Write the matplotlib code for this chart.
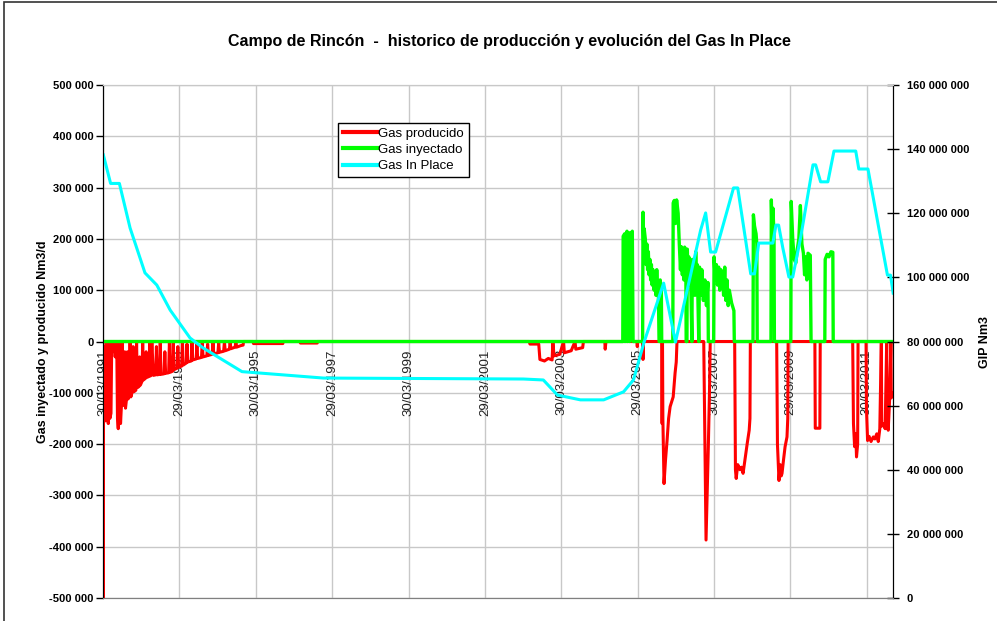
import numpy as np
import pandas as pd
import matplotlib
matplotlib.use('Agg')
import matplotlib.pyplot as plt
from matplotlib.patches import Rectangle

plt.rcParams['font.family'] = ['Liberation Sans', 'DejaVu Sans']

# --- data (time in decimal years) ---
# Gas producido (negative, Nm3/d)
prod_t = [1991.24, 1991.245, 1991.25, 1991.27, 1991.29, 1991.31, 1991.33, 1991.35, 1991.38,
          1991.40, 1991.42, 1991.45, 1991.47, 1991.50, 1991.53, 1991.56, 1991.60, 1991.62,
          1991.64, 1991.66, 1991.68, 1991.70, 1991.72, 1991.74, 1991.76, 1991.79, 1991.81,
          1991.83, 1991.86, 1991.88, 1991.90, 1991.93, 1991.95, 1991.97, 1992.00, 1992.03,
          1992.05, 1992.10, 1992.12, 1992.14, 1992.18, 1992.20, 1992.22, 1992.26, 1992.28,
          1992.30, 1992.35, 1992.37, 1992.39, 1992.45, 1992.47, 1992.49, 1992.52, 1992.56,
          1992.62, 1992.64, 1992.66, 1992.72, 1992.74, 1992.76, 1992.84, 1992.86, 1992.88,
          1992.96, 1992.98, 1993.00, 1993.06, 1993.08, 1993.10, 1993.18, 1993.20, 1993.22,
          1993.30, 1993.32, 1993.34, 1993.42, 1993.44, 1993.46, 1993.55, 1993.57, 1993.59,
          1993.68, 1993.70, 1993.72, 1993.82, 1993.84, 1993.86, 1993.96, 1993.98, 1994.00,
          1994.10, 1994.12, 1994.14, 1994.25, 1994.27, 1994.29, 1994.40, 1994.42, 1994.44,
          1994.55, 1994.57, 1994.59, 1994.70, 1994.72, 1994.74, 1994.85, 1994.91, 1994.92,
          1995.17, 1995.18, 1995.95, 1995.96, 1996.40, 1996.41, 1996.85, 1996.86,
          2002.40, 2002.42, 2002.65, 2002.68, 2002.80, 2002.90, 2003.00, 2003.02, 2003.05,
          2003.20, 2003.30, 2003.32, 2003.50, 2003.60, 2003.62, 2003.80, 2003.82, 2004.38,
          2004.39, 2004.41, 2005.22, 2005.23, 2005.24, 2005.37, 2005.38, 2005.39,
          2005.87, 2005.88, 2005.89, 2005.90, 2005.93, 2005.97, 2006.01, 2006.05, 2006.09,
          2006.12, 2006.17, 2006.22, 2006.25, 2006.27, 2006.97, 2007.00, 2007.03, 2007.06,
          2007.09, 2007.12, 2007.14, 2007.78, 2007.80, 2007.82, 2007.86, 2007.92, 2007.96,
          2008.00, 2008.05, 2008.11, 2008.16, 2008.18, 2008.19, 2008.88, 2008.90, 2008.94,
          2008.97, 2009.00, 2009.02, 2009.06, 2009.10, 2009.15, 2009.17, 2009.18, 2009.88,
          2009.89, 2010.01, 2010.02, 2010.87, 2010.89, 2010.92, 2010.95, 2010.97, 2011.00,
          2011.01, 2011.22, 2011.23, 2011.26, 2011.30, 2011.35, 2011.41, 2011.45, 2011.50,
          2011.54, 2011.58, 2011.62, 2011.63, 2011.67, 2011.72, 2011.76, 2011.78, 2011.80,
          2011.84, 2011.87, 2011.88, 2011.93]
prod_v = [0, -500000, -140000, -10000, -155000, -150000, 0, -145000, -160000,
          0, -150000, -140000, 0, -20000, 0, -30000, 0, -150000,
          -170000, -120000, 0, -160000, -130000, 0, -125000, -115000, -20000,
          -130000, -110000, -20000, -112000, -105000, 0, -108000, -100000, -10000,
          -98000, -95000, 0, -90000, -88000, -30000, -85000, -78000, 0,
          -75000, -72000, -20000, -70000, -68000, 0, -67000, 0, -66000,
          -65000, -10000, -65000, -64000, 0, -64000, -63000, -20000, -62000,
          -61000, 0, -60000, -58000, 0, -55000, -52000, -10000, -50000,
          -48000, 0, -46000, -42000, -5000, -40000, -38000, 0, -36000,
          -34000, -5000, -33000, -31000, 0, -30000, -28000, -5000, -27000,
          -25000, 0, -24000, -22000, -3000, -21000, -19000, 0, -18000,
          -15000, -2000, -14000, -11000, 0, -11000, -8000, -7000, 0,
          0, -4000, -4000, 0, 0, -3000, -3000, 0,
          0, -5000, -5000, -35000, -38000, -33000, -36000, 0, -28000,
          -25000, 0, -22000, -18000, 0, -15000, -12000, 0, 0,
          -15000, 0, 0, -10000, 0, 0, -35000, 0,
          0, -160000, 0, -150000, -277000, -230000, -193000, -150000, -127000,
          -120000, -108000, -61000, -40000, 0, 0, -200000, -387000, -300000,
          -205000, -100000, 0, 0, -250000, -267000, -240000, -250000, -245000,
          -257000, -230000, -198000, -173000, -150000, 0, 0, -200000, -271000,
          -240000, -262000, -257000, -230000, -205000, -186000, -150000, 0, 0,
          -169000, -169000, 0, 0, -160000, -205000, -180000, -225000, -200000,
          0, 0, -130000, -193000, -185000, -195000, -186000, -190000, -180000,
          -195000, -170000, 0, -165000, -160000, -170000, 0, -150000, -173000,
          -108000, 0, -110000, -101000]

# Gas inyectado (Nm3/d)
iny_t = [1991.24, 2004.85, 2004.86, 2004.90, 2004.91, 2004.92, 2004.96, 2004.97, 2004.98,
         2005.02, 2005.03, 2005.04, 2005.10, 2005.12, 2005.37, 2005.38, 2005.40, 2005.41,
         2005.44, 2005.46, 2005.48, 2005.50, 2005.52, 2005.54, 2005.56, 2005.58, 2005.60,
         2005.62, 2005.64, 2005.67, 2005.70, 2005.72, 2005.74, 2005.76, 2005.78, 2005.80,
         2005.82, 2005.83, 2005.86, 2005.87, 2006.16, 2006.17, 2006.20, 2006.23, 2006.26,
         2006.30, 2006.33, 2006.36, 2006.38, 2006.41, 2006.43, 2006.45, 2006.47, 2006.50,
         2006.51, 2006.53, 2006.54, 2006.56, 2006.58, 2006.60, 2006.62, 2006.66, 2006.67,
         2006.70, 2006.72, 2006.74, 2006.76, 2006.78, 2006.80, 2006.84, 2006.86, 2006.89,
         2006.92, 2006.96, 2007.00, 2007.04, 2007.08, 2007.09, 2007.23, 2007.24, 2007.27,
         2007.30, 2007.33, 2007.36, 2007.39, 2007.42, 2007.46, 2007.49, 2007.52, 2007.55,
         2007.58, 2007.61, 2007.64, 2007.70, 2007.76, 2007.77, 2008.26, 2008.27,
         2008.30, 2008.34, 2008.36, 2008.37, 2008.73, 2008.74, 2008.76, 2008.78, 2008.81,
         2008.82, 2009.25, 2009.26, 2009.30, 2009.34, 2009.38, 2009.42, 2009.46, 2009.50,
         2009.54, 2009.58, 2009.61, 2009.64, 2009.67, 2009.70, 2009.76, 2009.78, 2010.14,
         2010.15, 2010.20, 2010.25, 2010.30, 2010.35, 2010.36, 2011.93]
iny_v = [0, 0, 205000, 210000, 0, 200000, 215000, 0, 210000,
         212000, 0, 205000, 215000, 0, 0, 252000, 180000, 220000,
         200000, 150000, 190000, 140000, 175000, 130000, 160000, 120000, 150000,
         110000, 140000, 100000, 130000, 90000, 140000, 100000, 110000, 0,
         0, 120000, 100000, 0, 0, 270000, 275000, 230000, 276000,
         250000, 190000, 140000, 185000, 130000, 172000, 120000, 184000, 165000,
         0, 0, 180000, 120000, 165000, 110000, 150000, 0, 160000,
         100000, 140000, 90000, 175000, 110000, 150000, 0, 145000, 90000,
         140000, 80000, 120000, 70000, 115000, 0, 0, 165000, 120000,
         150000, 110000, 145000, 100000, 140000, 130000, 90000, 145000, 80000,
         120000, 70000, 100000, 75000, 60000, 0, 0, 247000,
         225000, 210000, 190000, 0, 0, 276000, 200000, 260000, 210000,
         0, 0, 273000, 200000, 160000, 153000, 180000, 200000, 265000,
         190000, 172000, 130000, 165000, 120000, 172000, 168000, 0, 0,
         160000, 170000, 165000, 175000, 174000, 0, 0]

# Gas In Place (Nm3)
gip_t = [1991.25, 1991.44, 1991.67, 1991.95, 1992.34, 1992.65, 1993.00, 1993.52, 1993.86,
         1994.88, 1997.01, 2002.25, 2002.77, 2003.14, 2003.74, 2004.35, 2004.87, 2005.13,
         2005.40, 2005.92, 2006.23, 2006.89, 2007.02, 2007.15, 2007.28, 2007.75, 2007.86,
         2008.20, 2008.30, 2008.41, 2008.78, 2008.86, 2008.93, 2009.04, 2009.20, 2009.30,
         2009.51, 2009.83, 2009.90, 2010.03, 2010.22, 2010.38, 2010.95, 2011.03, 2011.27,
         2011.78, 2011.86, 2011.93]
gip_v = [138.2, 129.3, 129.3, 115.4, 101.4, 97.6, 89.8, 81.1, 78.0,
         70.6, 68.6, 68.3, 68.0, 63.3, 61.8, 61.8, 64.3, 68.0,
         79.5, 98.2, 79.8, 114.8, 120.1, 107.9, 107.9, 127.9, 127.9,
         101.1, 101.1, 110.7, 110.7, 116.3, 116.3, 109.2, 100.1, 100.1,
         112.6, 135.1, 135.1, 129.8, 129.8, 139.4, 139.4, 133.8, 133.8,
         100.7, 100.7, 95.1]

tick_labels = ['30/03/1991', '29/03/1993', '30/03/1995', '29/03/1997', '30/03/1999',
               '29/03/2001', '30/03/2003', '29/03/2005', '30/03/2007', '29/03/2009',
               '30/03/2011']


def to_date(years):
    years = np.asarray(years, dtype=float)
    hours = np.round((years - 1991.0) * 365.25 * 24).astype('int64')
    return np.datetime64('1991-01-01T00') + hours.astype('timedelta64[h]')


def fmt(v):
    return f"{int(round(v)):,}".replace(',', ' ')


tick_dates = pd.to_datetime(tick_labels, format='%d/%m/%Y')

fig = plt.figure(figsize=(9.97, 6.21), dpi=100)
ax1 = fig.add_axes([103 / 997, 23 / 621, 790 / 997, 513 / 621])
ax2 = ax1.twinx()

ax1.plot(to_date(prod_t), prod_v, color='#ff0000', lw=2.2, label='Gas producido', zorder=3)
ax1.plot(to_date(iny_t), iny_v, color='#00ff00', lw=2.4, label='Gas inyectado', zorder=4)
ax2.plot(to_date(gip_t), np.array(gip_v) * 1e6, color='#00ffff', lw=2.2, label='Gas In Place')

ax1.set_xlim(np.datetime64('1991-03-30'), np.datetime64('2011-12-05'))
ax1.set_ylim(-500000, 500000)
ax2.set_ylim(0, 160000000)

yt = np.arange(-500000, 500001, 100000)
ax1.set_yticks(yt)
ax1.set_yticklabels([fmt(v) for v in yt], fontsize=8, fontweight='bold')
yt2 = np.arange(0, 160000001, 20000000)
ax2.set_yticks(yt2)
ax2.set_yticklabels([fmt(v) for v in yt2], fontsize=8, fontweight='bold')

ax1.set_xticks(tick_dates)
ax1.set_xticklabels([])
ax1.tick_params(axis='x', length=0)
ax1.tick_params(axis='y', direction='out', length=5, width=1, pad=2, colors='black')
ax2.tick_params(axis='y', direction='inout', length=8, width=1, pad=6, colors='black')

ax1.grid(True, color='#c8c8c8', lw=1)
ax1.set_axisbelow(True)

for d, lab in zip(tick_dates, tick_labels):
    ax1.text(d, -15000, lab, rotation=90, ha='center', va='top', fontsize=9.5,
             color='#222222', zorder=1)

for ax in (ax1, ax2):
    ax.spines['top'].set_color('#c8c8c8')
    ax.spines['bottom'].set_color('#808080')
    ax.spines['left'].set_color('black')
    ax.spines['right'].set_color('black')

ax1.set_ylabel('Gas inyectado y producido Nm3/d', fontsize=9, fontweight='bold', labelpad=0)
ax2.set_ylabel('GIP Nm3', fontsize=9, fontweight='bold', labelpad=7)

fig.suptitle('Campo de Rincón  -  historico de producción y evolución del Gas In Place',
             x=0.511, y=0.945, fontsize=11.5, fontweight='bold')

h1, l1 = ax1.get_legend_handles_labels()
h2, l2 = ax2.get_legend_handles_labels()
leg = ax2.legend(h1 + h2, l1 + l2, loc='upper left', bbox_to_anchor=(0.2975, 0.926),
                 borderaxespad=0, fontsize=9.5, fancybox=False, framealpha=1,
                 edgecolor='black', handlelength=2.6, handletextpad=0.1,
                 labelspacing=0.3, borderpad=0.35)
leg.get_frame().set_linewidth(1)
for line in leg.get_lines():
    line.set_linewidth(3)

fig.patches.append(Rectangle((3.5 / 997, -0.5), 2, 1.5 - 1.5 / 621, transform=fig.transFigure,
                             fill=False, edgecolor='#333333', lw=1.2, clip_on=False))

fig.savefig('out.png', dpi=100)
